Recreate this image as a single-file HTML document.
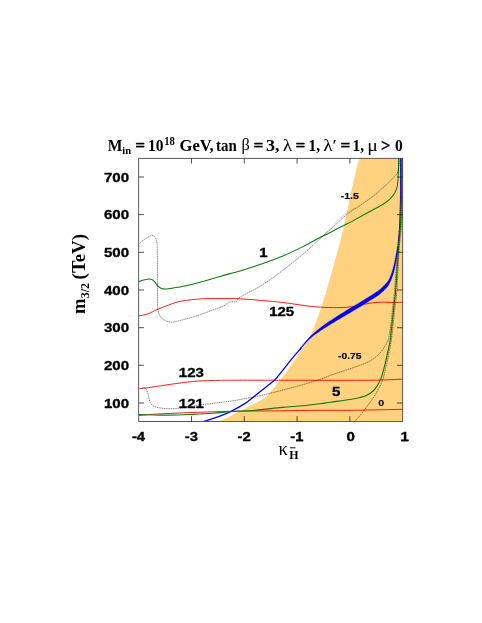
<!DOCTYPE html>
<html><head><meta charset="utf-8"><title>plot</title>
<style>
html,body{margin:0;padding:0;background:#ffffff;}
body{width:482px;height:623px;position:relative;overflow:hidden;font-family:"Liberation Sans",sans-serif;}
</style></head><body>
<svg width="482" height="623" viewBox="0 0 482 623" style="position:absolute;left:0;top:0;opacity:0.999;will-change:transform">
<defs><clipPath id="c"><rect x="138.7" y="158.3" width="264.0" height="263.2"/></clipPath></defs>
<g clip-path="url(#c)">
<path d="M218.50 421.50 C220.67 420.53 227.58 417.62 231.50 415.70 C235.42 413.78 238.50 411.88 242.00 410.00 C245.50 408.12 249.33 406.02 252.50 404.40 C255.67 402.78 258.55 401.77 261.00 400.30 C263.45 398.83 265.13 397.57 267.20 395.60 C269.27 393.63 271.33 391.02 273.40 388.50 C275.47 385.98 277.52 383.18 279.60 380.50 C281.68 377.82 283.82 375.22 285.90 372.40 C287.98 369.58 290.03 366.52 292.10 363.60 C294.17 360.68 296.32 357.90 298.30 354.90 C300.28 351.90 302.27 348.25 304.00 345.60 C305.73 342.95 307.07 341.97 308.70 339.00 C310.33 336.03 311.58 333.47 313.80 327.80 C316.02 322.13 319.52 312.47 322.00 305.00 C324.48 297.53 326.55 290.38 328.70 283.00 C330.85 275.62 332.90 267.87 334.90 260.70 C336.90 253.53 338.70 247.98 340.70 240.00 C342.70 232.02 345.55 218.93 346.90 212.80 C348.25 206.67 348.17 206.42 348.80 203.20 C349.43 199.98 350.00 196.72 350.70 193.50 C351.40 190.28 352.25 187.10 353.00 183.90 C353.75 180.70 354.43 177.52 355.20 174.30 C355.97 171.08 356.82 167.27 357.60 164.60 C358.38 161.93 359.52 159.35 359.90 158.30 L402.7 158.3 L402.7 421.5 Z" fill="#ffd27f"/>
<path d="M138.70 316.00 C140.25 315.63 144.95 314.87 148.00 313.80 C151.05 312.73 153.33 311.15 157.00 309.60 C160.67 308.05 165.85 305.93 170.00 304.50 C174.15 303.07 176.47 301.95 181.90 301.00 C187.33 300.05 196.25 299.20 202.60 298.80 C208.95 298.40 213.65 298.60 220.00 298.60 C226.35 298.60 233.78 298.48 240.70 298.80 C247.62 299.12 254.58 299.90 261.50 300.50 C268.42 301.10 276.62 301.78 282.20 302.40 C287.78 303.02 290.73 303.60 295.00 304.20 C299.27 304.80 303.52 305.50 307.80 306.00 C312.08 306.50 316.42 306.93 320.70 307.20 C324.98 307.47 329.23 307.58 333.50 307.60 C337.77 307.62 342.72 307.52 346.30 307.30 C349.88 307.08 352.38 306.73 355.00 306.30 C357.62 305.87 359.13 305.27 362.00 304.70 C364.87 304.13 368.77 303.32 372.20 302.90 C375.63 302.48 379.13 302.27 382.60 302.20 C386.07 302.13 389.65 302.50 393.00 302.50 C396.35 302.50 401.08 302.25 402.70 302.20" fill="none" stroke="#ff0000" stroke-width="0.9" />
<path d="M138.70 388.80 C140.70 388.55 145.23 388.07 150.70 387.30 C156.17 386.53 164.58 385.17 171.50 384.20 C178.42 383.23 185.28 382.12 192.20 381.50 C199.12 380.88 205.03 380.72 213.00 380.50 C220.97 380.28 222.17 380.23 240.00 380.20 C257.83 380.17 297.97 380.30 320.00 380.30 C342.03 380.30 358.42 380.38 372.20 380.20 C385.98 380.02 397.62 379.37 402.70 379.20" fill="none" stroke="#ff0000" stroke-width="0.9" />
<path d="M138.70 415.50 C139.92 415.40 143.78 415.08 146.00 414.90 C148.22 414.72 149.67 414.57 152.00 414.40 C154.33 414.23 156.17 414.10 160.00 413.90 C163.83 413.70 169.63 413.43 175.00 413.20 C180.37 412.97 185.87 412.73 192.20 412.50 C198.53 412.27 205.03 412.02 213.00 411.80 C220.97 411.58 228.83 411.37 240.00 411.20 C251.17 411.03 266.67 410.95 280.00 410.80 C293.33 410.65 308.08 410.38 320.00 410.30 C331.92 410.22 337.72 410.47 351.50 410.30 C365.28 410.13 394.17 409.47 402.70 409.30" fill="none" stroke="#ff0000" stroke-width="0.9" />
<path d="M203.70 421.50 C206.40 420.62 215.12 418.02 219.90 416.20 C224.68 414.38 228.25 412.70 232.40 410.60 C236.55 408.50 241.87 405.40 244.80 403.60 C247.73 401.80 248.10 401.27 250.00 399.80 C251.90 398.33 254.12 396.47 256.20 394.80 C258.28 393.13 260.42 391.47 262.50 389.80 C264.58 388.13 266.63 386.47 268.70 384.80 C270.77 383.13 272.83 381.87 274.90 379.80 C276.97 377.73 279.02 374.98 281.10 372.40 C283.18 369.82 285.32 366.93 287.40 364.30 C289.48 361.67 291.53 359.07 293.60 356.60 C295.67 354.13 298.48 351.03 299.80 349.50 C301.12 347.97 301.22 347.75 301.50 347.40" fill="none" stroke="#0000ff" stroke-width="1.3" />
<path d="M300.00 348.65 C300.83 347.57 303.27 344.27 305.00 342.20 C306.73 340.12 307.78 338.65 310.40 336.20 C313.02 333.75 317.25 330.16 320.70 327.50 C324.15 324.84 327.63 322.57 331.10 320.25 C334.57 317.93 338.35 315.60 341.50 313.60 C344.65 311.60 347.20 309.95 350.00 308.25 C352.80 306.55 355.47 305.11 358.30 303.40 C361.13 301.69 364.23 299.73 367.00 298.00 C369.77 296.27 372.65 294.57 374.90 293.05 C377.15 291.53 378.45 290.71 380.50 288.90 C382.55 287.09 385.67 284.03 387.20 282.20 C388.73 280.37 388.98 279.33 389.70 277.90 C390.42 276.47 390.92 275.28 391.50 273.60 C392.08 271.92 392.67 269.82 393.20 267.80 C393.73 265.78 394.22 263.75 394.70 261.50 C395.18 259.25 395.63 256.80 396.10 254.30 C396.57 251.80 397.27 247.80 397.50 246.50 L397.90 249.00 C397.73 250.25 397.34 253.75 396.90 256.50 C396.46 259.25 395.88 262.48 395.25 265.50 C394.62 268.52 393.89 271.97 393.10 274.60 C392.31 277.23 391.48 279.25 390.50 281.30 C389.52 283.35 388.87 284.87 387.20 286.90 C385.53 288.93 382.55 291.73 380.50 293.50 C378.45 295.27 377.15 296.07 374.90 297.55 C372.65 299.03 369.77 300.69 367.00 302.40 C364.23 304.11 361.13 306.09 358.30 307.80 C355.47 309.51 352.80 311.00 350.00 312.65 C347.20 314.30 344.65 315.82 341.50 317.70 C338.35 319.58 334.57 321.80 331.10 323.95 C327.63 326.10 324.15 328.23 320.70 330.60 C317.25 332.98 313.02 336.00 310.40 338.20 C307.78 340.40 306.73 341.84 305.00 343.80 C303.27 345.76 300.83 348.93 300.00 349.95 Z" fill="#0000ff" stroke="#0000ff" stroke-width="0.3"/>
<path d="M397.80 248.00 C397.86 247.33 398.02 245.33 398.15 244.00 C398.28 242.67 398.35 243.17 398.60 240.00 C398.85 236.83 399.35 231.67 399.65 225.00 C399.95 218.33 400.25 207.50 400.40 200.00 C400.55 192.50 400.52 186.95 400.55 180.00 C400.58 173.05 400.55 161.92 400.55 158.30" fill="none" stroke="#0000ff" stroke-width="0.9" />
<path d="M138.70 281.60 C139.33 281.38 141.22 280.67 142.50 280.30 C143.78 279.93 144.95 279.58 146.40 279.40 C147.85 279.22 149.85 278.83 151.20 279.20 C152.55 279.57 153.43 280.48 154.50 281.60 C155.57 282.72 156.40 284.73 157.60 285.90 C158.80 287.07 160.12 288.08 161.70 288.60 C163.28 289.12 164.47 289.22 167.10 289.00 C169.73 288.78 174.35 287.83 177.50 287.30 C180.65 286.77 182.25 286.65 186.00 285.80 C189.75 284.95 194.33 283.77 200.00 282.20 C205.67 280.63 213.22 278.30 220.00 276.40 C226.78 274.50 233.78 272.87 240.70 270.80 C247.62 268.73 254.58 266.42 261.50 264.00 C268.42 261.58 275.28 259.20 282.20 256.30 C289.12 253.40 296.70 249.73 303.00 246.60 C309.30 243.47 315.38 239.90 320.00 237.50 C324.62 235.10 326.67 234.25 330.70 232.20 C334.73 230.15 340.73 226.97 344.20 225.20 C347.67 223.43 346.83 224.10 351.50 221.60 C356.17 219.10 366.62 213.30 372.20 210.20 C377.78 207.10 381.53 205.43 385.00 203.00 C388.47 200.57 391.00 198.22 393.00 195.60 C395.00 192.98 396.12 190.75 397.00 187.30 C397.88 183.85 398.03 179.73 398.30 174.90 C398.57 170.07 398.55 161.07 398.60 158.30" fill="none" stroke="#0e790e" stroke-width="1.05" />
<path d="M138.70 414.40 C139.92 414.45 142.45 414.58 146.00 414.70 C149.55 414.82 154.67 415.05 160.00 415.10 C165.33 415.15 172.63 415.12 178.00 415.00 C183.37 414.88 186.37 414.70 192.20 414.40 C198.03 414.10 206.30 413.68 213.00 413.20 C219.70 412.72 225.40 412.00 232.40 411.50 C239.40 411.00 246.70 410.88 255.00 410.20 C263.30 409.52 274.20 408.15 282.20 407.40 C290.20 406.65 296.70 406.32 303.00 405.70 C309.30 405.08 315.38 404.28 320.00 403.70 C324.62 403.12 325.45 402.93 330.70 402.20 C335.95 401.47 346.62 400.08 351.50 399.30 C356.38 398.52 357.45 398.17 360.00 397.50 C362.55 396.83 364.53 396.47 366.80 395.30 C369.07 394.13 371.78 392.22 373.60 390.50 C375.42 388.78 376.55 386.82 377.70 385.00 C378.85 383.18 379.58 381.87 380.50 379.60 C381.42 377.33 382.30 374.58 383.20 371.40 C384.10 368.22 385.10 363.92 385.90 360.50 C386.70 357.08 387.28 354.32 388.00 350.90 C388.72 347.48 389.55 344.32 390.20 340.00 C390.85 335.68 391.20 331.33 391.90 325.00 C392.60 318.67 393.77 307.83 394.40 302.00 C395.03 296.17 395.04 298.67 395.70 290.00 C396.36 281.33 397.54 260.83 398.35 250.00 C399.16 239.17 400.03 233.33 400.55 225.00 C401.07 216.67 401.25 206.67 401.45 200.00 C401.65 193.33 401.70 191.95 401.75 185.00 C401.80 178.05 401.75 162.75 401.75 158.30" fill="none" stroke="#0e790e" stroke-width="1.15" />
<path d="M138.70 244.30 C139.63 243.50 142.27 240.97 144.30 239.50 C146.33 238.03 149.38 236.15 150.90 235.50 C152.42 234.85 152.57 235.05 153.40 235.60 C154.23 236.15 155.30 237.57 155.90 238.80 C156.50 240.03 156.75 240.65 157.00 243.00 C157.25 245.35 157.32 248.73 157.40 252.90 C157.48 257.07 157.48 260.15 157.50 268.00 C157.52 275.85 157.38 292.83 157.50 300.00 C157.62 307.17 157.65 308.17 158.20 311.00 C158.75 313.83 159.67 315.42 160.80 317.00 C161.93 318.58 163.22 319.65 165.00 320.50 C166.78 321.35 169.00 322.10 171.50 322.10 C174.00 322.10 176.55 321.30 180.00 320.50 C183.45 319.70 188.03 318.55 192.20 317.30 C196.37 316.05 201.53 314.22 205.00 313.00 C208.47 311.78 209.93 311.17 213.00 310.00 C216.07 308.83 220.73 307.28 223.40 306.00 C226.07 304.72 227.57 303.00 229.00 302.30 C230.43 301.60 230.73 301.93 232.00 301.80 C233.27 301.67 235.15 302.33 236.60 301.50 C238.05 300.67 236.55 299.48 240.70 296.80 C244.85 294.12 254.58 289.73 261.50 285.40 C268.42 281.07 275.28 276.00 282.20 270.80 C289.12 265.60 296.70 259.55 303.00 254.20 C309.30 248.85 315.38 242.90 320.00 238.70 C324.62 234.50 327.98 231.43 330.70 229.00 C333.42 226.57 333.67 226.48 336.30 224.10 C338.93 221.72 342.87 217.60 346.50 214.70 C350.13 211.80 353.82 209.67 358.10 206.70 C362.38 203.73 367.72 200.35 372.20 196.90 C376.68 193.45 381.53 189.10 385.00 186.00 C388.47 182.90 390.93 180.50 393.00 178.30 C395.07 176.10 396.40 174.85 397.40 172.80 C398.40 170.75 398.67 168.42 399.00 166.00 C399.33 163.58 399.33 159.58 399.40 158.30" fill="none" stroke="#000" stroke-width="0.6" stroke-opacity="0.28"/>
<path d="M138.70 244.30 C139.63 243.50 142.27 240.97 144.30 239.50 C146.33 238.03 149.38 236.15 150.90 235.50 C152.42 234.85 152.57 235.05 153.40 235.60 C154.23 236.15 155.30 237.57 155.90 238.80 C156.50 240.03 156.75 240.65 157.00 243.00 C157.25 245.35 157.32 248.73 157.40 252.90 C157.48 257.07 157.48 260.15 157.50 268.00 C157.52 275.85 157.38 292.83 157.50 300.00 C157.62 307.17 157.65 308.17 158.20 311.00 C158.75 313.83 159.67 315.42 160.80 317.00 C161.93 318.58 163.22 319.65 165.00 320.50 C166.78 321.35 169.00 322.10 171.50 322.10 C174.00 322.10 176.55 321.30 180.00 320.50 C183.45 319.70 188.03 318.55 192.20 317.30 C196.37 316.05 201.53 314.22 205.00 313.00 C208.47 311.78 209.93 311.17 213.00 310.00 C216.07 308.83 220.73 307.28 223.40 306.00 C226.07 304.72 227.57 303.00 229.00 302.30 C230.43 301.60 230.73 301.93 232.00 301.80 C233.27 301.67 235.15 302.33 236.60 301.50 C238.05 300.67 236.55 299.48 240.70 296.80 C244.85 294.12 254.58 289.73 261.50 285.40 C268.42 281.07 275.28 276.00 282.20 270.80 C289.12 265.60 296.70 259.55 303.00 254.20 C309.30 248.85 315.38 242.90 320.00 238.70 C324.62 234.50 327.98 231.43 330.70 229.00 C333.42 226.57 333.67 226.48 336.30 224.10 C338.93 221.72 342.87 217.60 346.50 214.70 C350.13 211.80 353.82 209.67 358.10 206.70 C362.38 203.73 367.72 200.35 372.20 196.90 C376.68 193.45 381.53 189.10 385.00 186.00 C388.47 182.90 390.93 180.50 393.00 178.30 C395.07 176.10 396.40 174.85 397.40 172.80 C398.40 170.75 398.67 168.42 399.00 166.00 C399.33 163.58 399.33 159.58 399.40 158.30" fill="none" stroke="#000" stroke-width="0.7" stroke-dasharray="1.15 1.15" stroke-opacity="0.55"/>
<path d="M142.00 388.30 C142.50 388.23 144.08 387.28 145.00 387.90 C145.92 388.52 146.83 390.32 147.50 392.00 C148.17 393.68 148.50 396.17 149.00 398.00 C149.50 399.83 149.50 401.53 150.50 403.00 C151.50 404.47 152.58 405.88 155.00 406.80 C157.42 407.72 161.57 408.22 165.00 408.50 C168.43 408.78 171.43 408.83 175.60 408.50 C179.77 408.17 185.10 407.20 190.00 406.50 C194.90 405.80 200.00 404.97 205.00 404.30 C210.00 403.63 215.43 403.07 220.00 402.50 C224.57 401.93 228.27 401.53 232.40 400.90 C236.53 400.27 239.95 399.62 244.80 398.70 C249.65 397.78 255.27 396.82 261.50 395.40 C267.73 393.98 277.02 391.52 282.20 390.20 C287.38 388.88 289.13 388.43 292.60 387.50 C296.07 386.57 298.43 385.95 303.00 384.60 C307.57 383.25 315.38 380.97 320.00 379.40 C324.62 377.83 327.20 376.47 330.70 375.20 C334.20 373.93 337.53 372.97 341.00 371.80 C344.47 370.63 348.33 369.28 351.50 368.20 C354.67 367.12 357.45 366.23 360.00 365.30 C362.55 364.37 364.53 363.72 366.80 362.60 C369.07 361.48 371.32 360.28 373.60 358.60 C375.88 356.92 378.67 354.47 380.50 352.50 C382.33 350.53 383.47 348.55 384.60 346.80 C385.73 345.05 386.58 343.63 387.30 342.00 C388.02 340.37 388.32 339.83 388.90 337.00 C389.48 334.17 390.07 330.83 390.80 325.00 C391.53 319.17 392.67 307.83 393.30 302.00 C393.93 296.17 393.89 298.67 394.60 290.00 C395.31 281.33 396.69 260.83 397.55 250.00 C398.41 239.17 399.23 233.33 399.75 225.00 C400.27 216.67 400.45 206.67 400.65 200.00 C400.85 193.33 400.90 191.95 400.95 185.00 C401.00 178.05 400.95 162.75 400.95 158.30" fill="none" stroke="#000" stroke-width="0.6" stroke-opacity="0.28"/>
<path d="M142.00 388.30 C142.50 388.23 144.08 387.28 145.00 387.90 C145.92 388.52 146.83 390.32 147.50 392.00 C148.17 393.68 148.50 396.17 149.00 398.00 C149.50 399.83 149.50 401.53 150.50 403.00 C151.50 404.47 152.58 405.88 155.00 406.80 C157.42 407.72 161.57 408.22 165.00 408.50 C168.43 408.78 171.43 408.83 175.60 408.50 C179.77 408.17 185.10 407.20 190.00 406.50 C194.90 405.80 200.00 404.97 205.00 404.30 C210.00 403.63 215.43 403.07 220.00 402.50 C224.57 401.93 228.27 401.53 232.40 400.90 C236.53 400.27 239.95 399.62 244.80 398.70 C249.65 397.78 255.27 396.82 261.50 395.40 C267.73 393.98 277.02 391.52 282.20 390.20 C287.38 388.88 289.13 388.43 292.60 387.50 C296.07 386.57 298.43 385.95 303.00 384.60 C307.57 383.25 315.38 380.97 320.00 379.40 C324.62 377.83 327.20 376.47 330.70 375.20 C334.20 373.93 337.53 372.97 341.00 371.80 C344.47 370.63 348.33 369.28 351.50 368.20 C354.67 367.12 357.45 366.23 360.00 365.30 C362.55 364.37 364.53 363.72 366.80 362.60 C369.07 361.48 371.32 360.28 373.60 358.60 C375.88 356.92 378.67 354.47 380.50 352.50 C382.33 350.53 383.47 348.55 384.60 346.80 C385.73 345.05 386.58 343.63 387.30 342.00 C388.02 340.37 388.32 339.83 388.90 337.00 C389.48 334.17 390.07 330.83 390.80 325.00 C391.53 319.17 392.67 307.83 393.30 302.00 C393.93 296.17 393.89 298.67 394.60 290.00 C395.31 281.33 396.69 260.83 397.55 250.00 C398.41 239.17 399.23 233.33 399.75 225.00 C400.27 216.67 400.45 206.67 400.65 200.00 C400.85 193.33 400.90 191.95 400.95 185.00 C401.00 178.05 400.95 162.75 400.95 158.30" fill="none" stroke="#000" stroke-width="0.7" stroke-dasharray="1.15 1.15" stroke-opacity="0.55"/>
<path d="M354.60 421.50 C355.50 420.53 357.97 418.15 360.00 415.70 C362.03 413.25 364.53 409.87 366.80 406.80 C369.07 403.73 371.78 400.02 373.60 397.30 C375.42 394.58 376.55 392.55 377.70 390.50 C378.85 388.45 379.58 387.05 380.50 385.00 C381.42 382.95 382.30 381.15 383.20 378.20 C384.10 375.25 385.10 370.72 385.90 367.30 C386.70 363.88 387.43 360.43 388.00 357.70 C388.57 354.97 388.73 353.85 389.30 350.90 C389.87 347.95 390.77 344.32 391.40 340.00 C392.03 335.68 392.40 331.33 393.10 325.00 C393.80 318.67 394.97 307.83 395.60 302.00 C396.23 296.17 396.31 298.67 396.90 290.00 C397.49 281.33 398.41 260.83 399.15 250.00 C399.89 239.17 400.83 233.33 401.35 225.00 C401.87 216.67 402.09 206.67 402.25 200.00 C402.41 193.33 402.29 191.95 402.30 185.00 C402.31 178.05 402.30 162.75 402.30 158.30" fill="none" stroke="#000" stroke-width="0.6" stroke-opacity="0.28"/>
<path d="M354.60 421.50 C355.50 420.53 357.97 418.15 360.00 415.70 C362.03 413.25 364.53 409.87 366.80 406.80 C369.07 403.73 371.78 400.02 373.60 397.30 C375.42 394.58 376.55 392.55 377.70 390.50 C378.85 388.45 379.58 387.05 380.50 385.00 C381.42 382.95 382.30 381.15 383.20 378.20 C384.10 375.25 385.10 370.72 385.90 367.30 C386.70 363.88 387.43 360.43 388.00 357.70 C388.57 354.97 388.73 353.85 389.30 350.90 C389.87 347.95 390.77 344.32 391.40 340.00 C392.03 335.68 392.40 331.33 393.10 325.00 C393.80 318.67 394.97 307.83 395.60 302.00 C396.23 296.17 396.31 298.67 396.90 290.00 C397.49 281.33 398.41 260.83 399.15 250.00 C399.89 239.17 400.83 233.33 401.35 225.00 C401.87 216.67 402.09 206.67 402.25 200.00 C402.41 193.33 402.29 191.95 402.30 185.00 C402.31 178.05 402.30 162.75 402.30 158.30" fill="none" stroke="#000" stroke-width="0.7" stroke-dasharray="1.15 1.15" stroke-opacity="0.55"/>
<path d="M322.00 237.20 C322.83 236.30 325.17 233.78 327.00 231.80 C328.83 229.82 330.83 227.50 333.00 225.30 C335.17 223.10 337.75 220.62 340.00 218.60 C342.25 216.58 344.50 214.70 346.50 213.20 C348.50 211.70 350.42 210.48 352.00 209.60 C353.58 208.72 355.33 208.18 356.00 207.90" fill="none" stroke="#000" stroke-width="0.5" stroke-opacity="0.3"/>
</g>
<rect x="138.7" y="158.3" width="264.0" height="263.2" fill="none" stroke="#333" stroke-width="0.8"/>
<path d="M138.7 403.0h5.3M402.7 403.0h-5.7M138.7 365.3h5.3M402.7 365.3h-5.7M138.7 327.7h5.3M402.7 327.7h-5.7M138.7 290.0h5.3M402.7 290.0h-5.7M138.7 252.3h5.3M402.7 252.3h-5.7M138.7 214.6h5.3M402.7 214.6h-5.7M138.7 177.0h5.3M402.7 177.0h-5.7M191.5 421.5v-5.3M191.5 158.3v5.3M244.3 421.5v-5.3M244.3 158.3v5.3M297.1 421.5v-5.3M297.1 158.3v5.3M349.9 421.5v-5.3M349.9 158.3v5.3" stroke="#222" stroke-width="0.8" fill="none"/>
<text x="103.90" y="407.60" font-family="'Liberation Sans',sans-serif" font-size="12.2" font-weight="bold" text-anchor="start" textLength="25.2" lengthAdjust="spacingAndGlyphs"  stroke="#000" stroke-width="0.3" stroke-linejoin="round">100</text>
<text x="103.90" y="369.93" font-family="'Liberation Sans',sans-serif" font-size="12.2" font-weight="bold" text-anchor="start" textLength="25.2" lengthAdjust="spacingAndGlyphs"  stroke="#000" stroke-width="0.3" stroke-linejoin="round">200</text>
<text x="103.90" y="332.26" font-family="'Liberation Sans',sans-serif" font-size="12.2" font-weight="bold" text-anchor="start" textLength="25.2" lengthAdjust="spacingAndGlyphs"  stroke="#000" stroke-width="0.3" stroke-linejoin="round">300</text>
<text x="103.90" y="294.59" font-family="'Liberation Sans',sans-serif" font-size="12.2" font-weight="bold" text-anchor="start" textLength="25.2" lengthAdjust="spacingAndGlyphs"  stroke="#000" stroke-width="0.3" stroke-linejoin="round">400</text>
<text x="103.90" y="256.92" font-family="'Liberation Sans',sans-serif" font-size="12.2" font-weight="bold" text-anchor="start" textLength="25.2" lengthAdjust="spacingAndGlyphs"  stroke="#000" stroke-width="0.3" stroke-linejoin="round">500</text>
<text x="103.90" y="219.25" font-family="'Liberation Sans',sans-serif" font-size="12.2" font-weight="bold" text-anchor="start" textLength="25.2" lengthAdjust="spacingAndGlyphs"  stroke="#000" stroke-width="0.3" stroke-linejoin="round">600</text>
<text x="103.90" y="181.58" font-family="'Liberation Sans',sans-serif" font-size="12.2" font-weight="bold" text-anchor="start" textLength="25.2" lengthAdjust="spacingAndGlyphs"  stroke="#000" stroke-width="0.3" stroke-linejoin="round">700</text>
<text x="131.90" y="441.20" font-family="'Liberation Sans',sans-serif" font-size="12" font-weight="bold" text-anchor="start" textLength="13.2" lengthAdjust="spacingAndGlyphs"  stroke="#000" stroke-width="0.3" stroke-linejoin="round">-4</text>
<text x="184.70" y="441.20" font-family="'Liberation Sans',sans-serif" font-size="12" font-weight="bold" text-anchor="start" textLength="13.2" lengthAdjust="spacingAndGlyphs"  stroke="#000" stroke-width="0.3" stroke-linejoin="round">-3</text>
<text x="237.50" y="441.20" font-family="'Liberation Sans',sans-serif" font-size="12" font-weight="bold" text-anchor="start" textLength="13.2" lengthAdjust="spacingAndGlyphs"  stroke="#000" stroke-width="0.3" stroke-linejoin="round">-2</text>
<text x="290.30" y="441.20" font-family="'Liberation Sans',sans-serif" font-size="12" font-weight="bold" text-anchor="start" textLength="13.2" lengthAdjust="spacingAndGlyphs"  stroke="#000" stroke-width="0.3" stroke-linejoin="round">-1</text>
<text x="346.60" y="441.20" font-family="'Liberation Sans',sans-serif" font-size="12" font-weight="bold" text-anchor="start" textLength="8.4" lengthAdjust="spacingAndGlyphs"  stroke="#000" stroke-width="0.3" stroke-linejoin="round">0</text>
<text x="400.50" y="441.20" font-family="'Liberation Sans',sans-serif" font-size="12" font-weight="bold" text-anchor="start" textLength="8.4" lengthAdjust="spacingAndGlyphs"  stroke="#000" stroke-width="0.3" stroke-linejoin="round">1</text>
<text x="178.80" y="376.90" font-family="'Liberation Sans',sans-serif" font-size="12" font-weight="bold" text-anchor="start" textLength="25.0" lengthAdjust="spacingAndGlyphs"  stroke="#000" stroke-width="0.3" stroke-linejoin="round">123</text>
<text x="178.80" y="407.80" font-family="'Liberation Sans',sans-serif" font-size="12" font-weight="bold" text-anchor="start" textLength="25.0" lengthAdjust="spacingAndGlyphs"  stroke="#000" stroke-width="0.3" stroke-linejoin="round">121</text>
<text x="269.20" y="316.00" font-family="'Liberation Sans',sans-serif" font-size="12" font-weight="bold" text-anchor="start" textLength="25.0" lengthAdjust="spacingAndGlyphs"  stroke="#000" stroke-width="0.3" stroke-linejoin="round">125</text>
<text x="259.30" y="257.00" font-family="'Liberation Sans',sans-serif" font-size="12" font-weight="bold" text-anchor="start" textLength="8.4" lengthAdjust="spacingAndGlyphs"  stroke="#000" stroke-width="0.3" stroke-linejoin="round">1</text>
<text x="332.00" y="396.00" font-family="'Liberation Sans',sans-serif" font-size="12" font-weight="bold" text-anchor="start" textLength="8.4" lengthAdjust="spacingAndGlyphs"  stroke="#000" stroke-width="0.3" stroke-linejoin="round">5</text>
<text x="340.70" y="198.80" font-family="'Liberation Sans',sans-serif" font-size="8.5" font-weight="bold" text-anchor="start" textLength="18.2" lengthAdjust="spacingAndGlyphs"  stroke="#000" stroke-width="0.12" stroke-linejoin="round">-1.5</text>
<text x="338.00" y="359.00" font-family="'Liberation Sans',sans-serif" font-size="8.5" font-weight="bold" text-anchor="start" textLength="23.5" lengthAdjust="spacingAndGlyphs"  stroke="#000" stroke-width="0.12" stroke-linejoin="round">-0.75</text>
<text x="378.30" y="406.10" font-family="'Liberation Sans',sans-serif" font-size="8.5" font-weight="bold" text-anchor="start" textLength="5.9" lengthAdjust="spacingAndGlyphs"  stroke="#000" stroke-width="0.12" stroke-linejoin="round">0</text>
<path d="M104.8 406.2H111.6V407.6H104.8ZM296.0 439.8H302.9V441.2H296.0ZM401.3 439.8H408.2V441.2H401.3ZM179.6 375.5H186.4V376.9H179.6ZM179.6 406.4H186.4V407.8H179.6ZM196.3 406.4H203.1V407.8H196.3ZM270.0 314.6H276.8V316.0H270.0ZM260.1 255.7H266.9V257.0H260.1Z" fill="#000"/>
<text transform="translate(107.80,150.70) scale(0.934,1.000)" font-family="'Liberation Serif',serif" font-size="16.6" font-weight="bold" text-anchor="start" >M</text>
<text transform="translate(122.30,154.40) scale(0.930,1.000)" font-family="'Liberation Serif',serif" font-size="11.4" font-weight="bold" text-anchor="start" >in</text>
<text transform="translate(135.20,150.70) scale(1.040,1.000)" font-family="'Liberation Serif',serif" font-size="16.6" font-weight="bold" text-anchor="start" stroke="#000" stroke-width="0.35">=</text>
<text transform="translate(148.00,150.70) scale(0.934,1.000)" font-family="'Liberation Serif',serif" font-size="16.6" font-weight="bold" text-anchor="start" >10</text>
<text transform="translate(164.20,144.60) scale(0.900,1.000)" font-family="'Liberation Serif',serif" font-size="11.8" font-weight="bold" text-anchor="start" >18</text>
<text transform="translate(179.50,150.70) scale(1.000,1.000)" font-family="'Liberation Serif',serif" font-size="16.6" font-weight="bold" text-anchor="start" >GeV,</text>
<text transform="translate(216.00,150.70) scale(0.900,1.000)" font-family="'Liberation Serif',serif" font-size="16.6" font-weight="bold" text-anchor="start" >tan</text>
<text transform="translate(241.60,150.40) scale(0.950,0.920)" font-family="'Liberation Serif',serif" font-size="17.2" font-weight="normal" text-anchor="start" >β</text>
<text transform="translate(253.60,150.70) scale(1.040,1.000)" font-family="'Liberation Serif',serif" font-size="16.6" font-weight="bold" text-anchor="start" stroke="#000" stroke-width="0.35">=</text>
<text transform="translate(266.00,150.70) scale(1.080,1.000)" font-family="'Liberation Serif',serif" font-size="16.6" font-weight="bold" text-anchor="start" >3,</text>
<text transform="translate(282.80,150.70) scale(1.120,0.930)" font-family="'Liberation Serif',serif" font-size="17.2" font-weight="normal" text-anchor="start" >λ</text>
<text transform="translate(295.60,150.70) scale(1.040,1.000)" font-family="'Liberation Serif',serif" font-size="16.6" font-weight="bold" text-anchor="start" stroke="#000" stroke-width="0.35">=</text>
<text transform="translate(308.50,150.70) scale(0.934,1.000)" font-family="'Liberation Serif',serif" font-size="16.6" font-weight="bold" text-anchor="start" >1,</text>
<text transform="translate(323.20,150.70) scale(1.120,0.930)" font-family="'Liberation Serif',serif" font-size="17.2" font-weight="normal" text-anchor="start" >λ′</text>
<text transform="translate(340.60,150.70) scale(1.040,1.000)" font-family="'Liberation Serif',serif" font-size="16.6" font-weight="bold" text-anchor="start" stroke="#000" stroke-width="0.35">=</text>
<text transform="translate(352.40,150.70) scale(0.934,1.000)" font-family="'Liberation Serif',serif" font-size="16.6" font-weight="bold" text-anchor="start" >1,</text>
<text transform="translate(367.20,150.70) scale(1.150,1.000)" font-family="'Liberation Serif',serif" font-size="17.2" font-weight="normal" text-anchor="start" >μ</text>
<text transform="translate(381.00,150.70) scale(1.000,1.000)" font-family="'Liberation Serif',serif" font-size="16.6" font-weight="bold" text-anchor="start" stroke="#000" stroke-width="0.35">&gt;</text>
<text transform="translate(395.00,150.70) scale(0.934,1.000)" font-family="'Liberation Serif',serif" font-size="16.6" font-weight="bold" text-anchor="start" >0</text>
<text x="278.60" y="454.70" font-family="'Liberation Serif',serif" font-size="18.6" font-weight="normal" text-anchor="start" >κ</text>
<text x="289.30" y="459.20" font-family="'Liberation Serif',serif" font-size="12" font-weight="bold" text-anchor="start" id="Hs">H</text>
<path d="M289.9 447.8h5.6" stroke="#111" stroke-width="1"/>
<g transform="translate(84.5,314.1) rotate(-90)">
<text x="0.00" y="0.00" font-family="'Liberation Serif',serif" font-size="18.5" font-weight="bold" text-anchor="start" id="ym">m</text>
<text transform="translate(15.90,4.80) scale(0.930,1.000)" font-family="'Liberation Serif',serif" font-size="12.8" font-weight="bold" text-anchor="start" >3/2</text>
<text transform="translate(34.70,0.00) scale(1.020,1.000)" font-family="'Liberation Serif',serif" font-size="18.5" font-weight="bold" text-anchor="start" >(TeV)</text>
</g>
</svg>
</body></html>
